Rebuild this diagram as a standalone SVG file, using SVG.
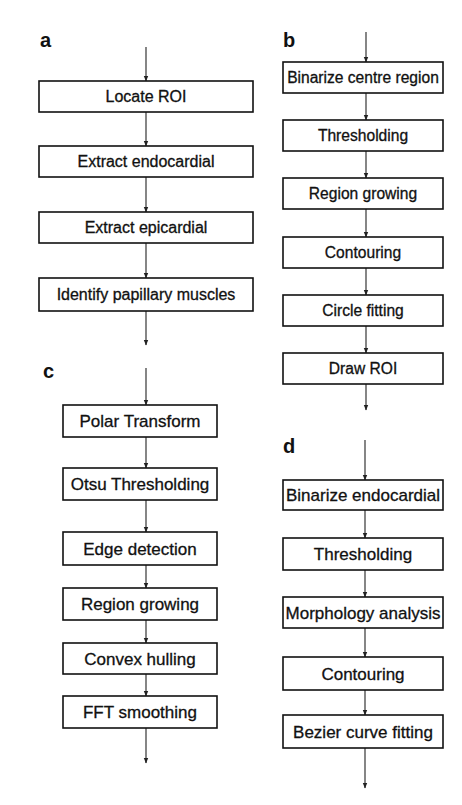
<svg xmlns="http://www.w3.org/2000/svg" width="462" height="805" viewBox="0 0 462 805">
<defs>
<marker id="ah" markerWidth="6" markerHeight="6" refX="5" refY="3" orient="auto" markerUnits="userSpaceOnUse">
<path d="M0,0.8 L5.5,3 L0,5.2 Z" fill="#222"/>
</marker>
<style>
.box{fill:#fff;stroke:#111;stroke-width:1.6}
.t{font-family:"Liberation Sans",Arial,sans-serif;fill:#111;stroke:#111;stroke-width:0.3;text-anchor:middle}
.ta{font-size:16px}
.tb{font-size:15.6px}
.tc{font-size:17px}
.td{font-size:17px}
.lbl{font-family:"Liberation Sans",Arial,sans-serif;font-weight:bold;font-size:20px;fill:#111}
.c{stroke:#222;stroke-width:1.1;fill:none;marker-end:url(#ah)}
</style>
</defs>
<rect width="462" height="805" fill="#fff"/>
<g id="labels">
<text class="lbl" x="40" y="47">a</text>
<text class="lbl" x="283" y="47">b</text>
<text class="lbl" x="43" y="378">c</text>
<text class="lbl" x="283" y="453">d</text>
</g>
<g id="connectors">
<line class="c" x1="146" y1="47" x2="146" y2="81"/>
<line class="c" x1="146" y1="112" x2="146" y2="146"/>
<line class="c" x1="146" y1="177" x2="146" y2="212"/>
<line class="c" x1="146" y1="243" x2="146" y2="278"/>
<line class="c" x1="146" y1="311" x2="146" y2="345"/>
<line class="c" x1="366" y1="32" x2="366" y2="62"/>
<line class="c" x1="366" y1="93" x2="366" y2="120"/>
<line class="c" x1="366" y1="151" x2="366" y2="178"/>
<line class="c" x1="366" y1="209" x2="366" y2="237"/>
<line class="c" x1="366" y1="268" x2="366" y2="295"/>
<line class="c" x1="366" y1="326" x2="366" y2="353"/>
<line class="c" x1="366" y1="384" x2="366" y2="410"/>
<line class="c" x1="146" y1="368" x2="146" y2="405"/>
<line class="c" x1="146" y1="437" x2="146" y2="468"/>
<line class="c" x1="146" y1="500" x2="146" y2="532"/>
<line class="c" x1="146" y1="565" x2="146" y2="588"/>
<line class="c" x1="146" y1="620" x2="146" y2="643"/>
<line class="c" x1="146" y1="674" x2="146" y2="696"/>
<line class="c" x1="146" y1="728" x2="146" y2="763"/>
<line class="c" x1="365" y1="440" x2="365" y2="480"/>
<line class="c" x1="365" y1="510" x2="365" y2="538"/>
<line class="c" x1="365" y1="570" x2="365" y2="597"/>
<line class="c" x1="365" y1="628" x2="365" y2="657"/>
<line class="c" x1="365" y1="690" x2="365" y2="715"/>
<line class="c" x1="365" y1="748" x2="365" y2="788"/>
</g>
<g id="a1"><rect class="box" x="39" y="81" width="214" height="31"/><text class="t ta" x="146" y="102">Locate ROI</text></g>
<g id="a2"><rect class="box" x="39" y="146" width="214" height="31"/><text class="t ta" x="146" y="167">Extract endocardial</text></g>
<g id="a3"><rect class="box" x="39" y="212" width="214" height="31"/><text class="t ta" x="146" y="233">Extract epicardial</text></g>
<g id="a4"><rect class="box" x="39" y="278" width="214" height="33"/><text class="t ta" x="146" y="300">Identify papillary muscles</text></g>

<g id="b1"><rect class="box" x="283" y="62" width="160" height="31"/><text class="t tb" x="363" y="83">Binarize centre region</text></g>
<g id="b2"><rect class="box" x="283" y="120" width="160" height="31"/><text class="t tb" x="363" y="141">Thresholding</text></g>
<g id="b3"><rect class="box" x="283" y="178" width="160" height="31"/><text class="t tb" x="363" y="199">Region growing</text></g>
<g id="b4"><rect class="box" x="283" y="237" width="160" height="31"/><text class="t tb" x="363" y="258">Contouring</text></g>
<g id="b5"><rect class="box" x="283" y="295" width="160" height="31"/><text class="t tb" x="363" y="316">Circle fitting</text></g>
<g id="b6"><rect class="box" x="283" y="353" width="160" height="31"/><text class="t tb" x="363" y="374">Draw ROI</text></g>

<g id="c1"><rect class="box" x="63" y="405" width="154" height="32"/><text class="t tc" x="140" y="427">Polar Transform</text></g>
<g id="c2"><rect class="box" x="63" y="468" width="154" height="32"/><text class="t tc" x="140" y="490">Otsu Thresholding</text></g>
<g id="c3"><rect class="box" x="63" y="532" width="154" height="33"/><text class="t tc" x="140" y="554.5">Edge detection</text></g>
<g id="c4"><rect class="box" x="63" y="588" width="154" height="32"/><text class="t tc" x="140" y="610">Region growing</text></g>
<g id="c5"><rect class="box" x="63" y="643" width="154" height="31"/><text class="t tc" x="140" y="664.5">Convex hulling</text></g>
<g id="c6"><rect class="box" x="63" y="696" width="154" height="32"/><text class="t tc" x="140" y="718">FFT smoothing</text></g>

<g id="d1"><rect class="box" x="283" y="480" width="160" height="30"/><text class="t td" x="363" y="501">Binarize endocardial</text></g>
<g id="d2"><rect class="box" x="283" y="538" width="160" height="32"/><text class="t td" x="363" y="560">Thresholding</text></g>
<g id="d3"><rect class="box" x="283" y="597" width="160" height="31"/><text class="t td" x="363" y="618.5">Morphology analysis</text></g>
<g id="d4"><rect class="box" x="283" y="657" width="160" height="33"/><text class="t td" x="363" y="679.5">Contouring</text></g>
<g id="d5"><rect class="box" x="283" y="715" width="160" height="33"/><text class="t td" x="363" y="737.5">Bezier curve fitting</text></g>
</svg>
